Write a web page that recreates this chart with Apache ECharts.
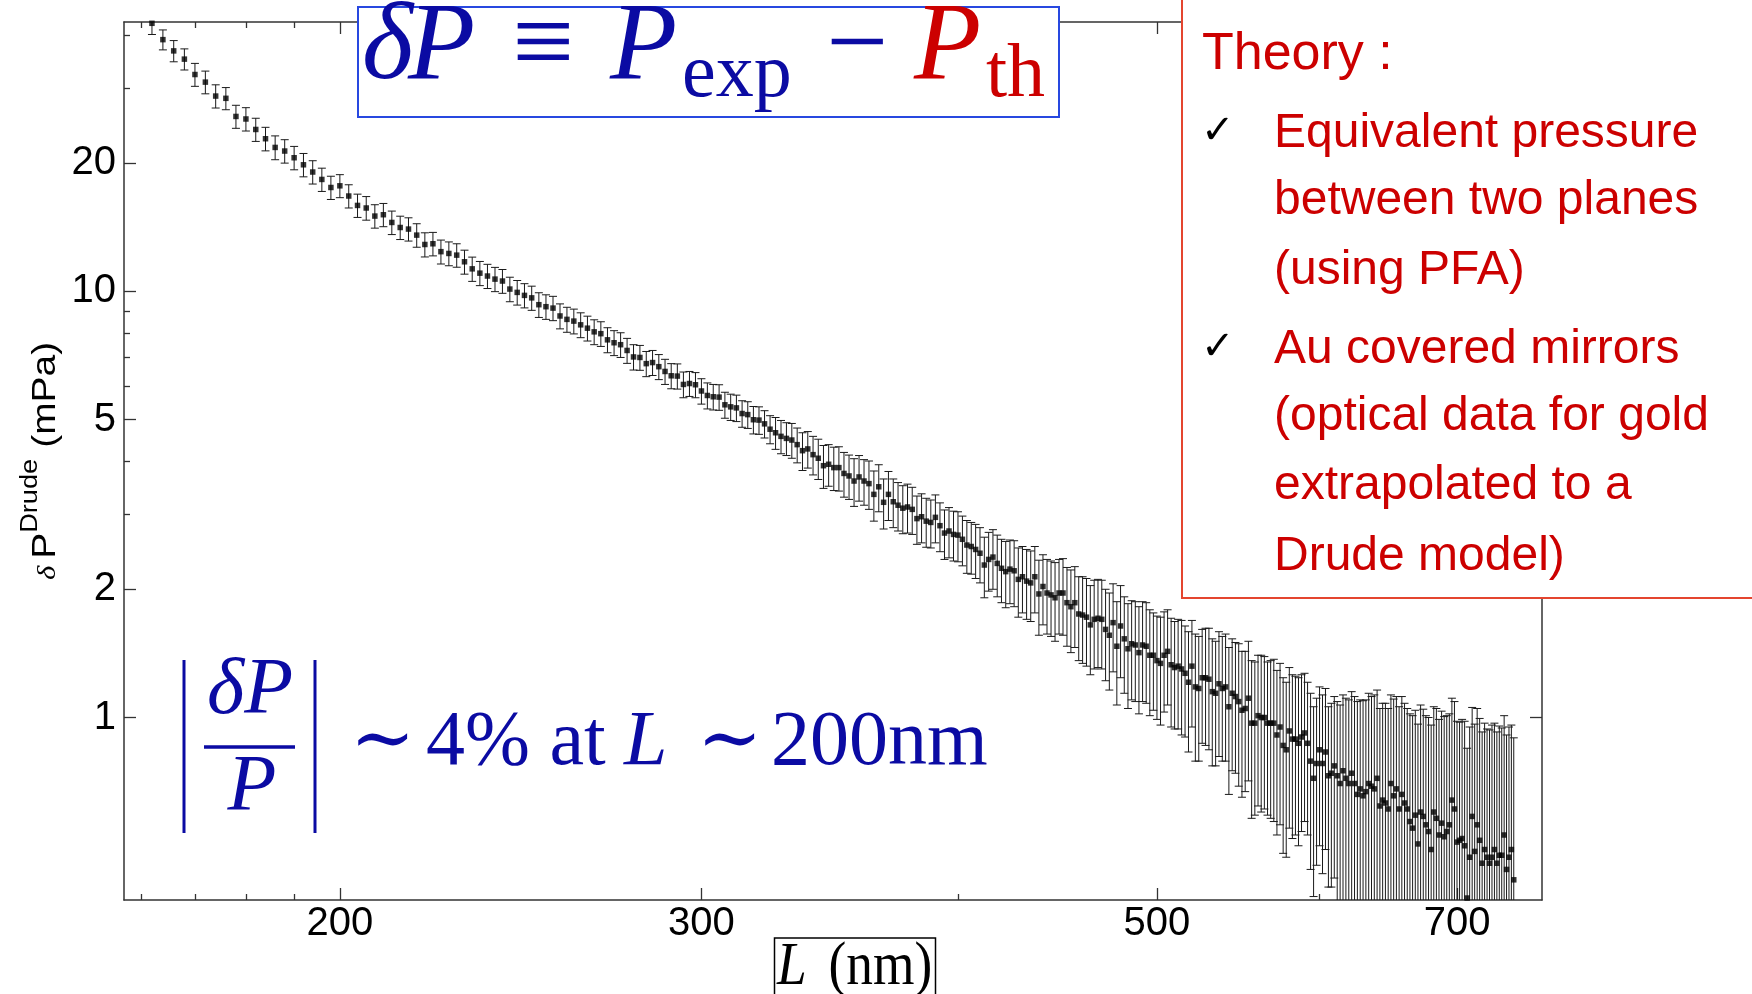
<!DOCTYPE html>
<html><head><meta charset="utf-8">
<script src="https://cdn.jsdelivr.net/npm/echarts@6/dist/echarts.min.js"></script>
<style>html,body{margin:0;padding:0;background:#fff}#c{width:1752px;height:994px}</style>
</head><body><div id="c"></div>
<script>
// ---------- data ----------
const L1 = [162,164,166,168,170,172,174,176,178,180,182,184,186,188,190,192,194,196,198,200,202,204,206,208,210,212];
const P1 = [42.6,39.0,36.7,35.1,32.3,31.0,28.75,28.4,25.75,25.4,24.0,22.83,21.78,21.36,20.6,19.83,19.07,18.32,17.54,17.70,16.75,15.92,15.70,15.03,15.14,14.52];
const E1 = [2.5,2.1,2.1,2.0,2.0,1.9,1.8,1.7,1.6,1.6,1.5,1.45,1.4,1.35,1.3,1.25,1.2,1.15,1.1,1.1,1.05,1.0,1.0,0.95,0.95,0.92];

const L2 = [214,216,218,220,222,224,226,228,230,232,234,236,238,240,242,244,246,248,250,252,254,256,258,260,262,264,266,268,270,272,274,276,278,280,282,284,286,288,290,292,294,296,298,300,302,304,306,308,310,312,314,316,318,320,322,324];
const P2 = [14.13,14.01,13.56,12.89,12.94,12.40,12.28,12.17,11.74,11.30,11.04,10.87,10.69,10.58,10.13,9.95,9.79,9.66,9.31,9.21,9.14,8.76,8.60,8.52,8.35,8.20,8.04,7.96,7.70,7.58,7.50,7.27,7.02,7.00,6.77,6.81,6.66,6.49,6.34,6.33,6.05,6.08,6.04,5.84,5.70,5.66,5.65,5.42,5.36,5.33,5.17,5.14,5.00,4.99,4.89,4.75];
const E2 = [0.89,0.88,0.86,0.84,0.82,0.80,0.79,0.77,0.76,0.74,0.72,0.71,0.70,0.68,0.67,0.66,0.64,0.63,0.62,0.61,0.60,0.59,0.58,0.57,0.56,0.55,0.54,0.53,0.52,0.51,0.50,0.49,0.48,0.47,0.46,0.46,0.45,0.44,0.43,0.43,0.42,0.41,0.41,0.40,0.40,0.39,0.39,0.38,0.38,0.38,0.37,0.37,0.37,0.37,0.36,0.36];

const L3 = [326,328,330,332,334,336,338,340,342,344,346,348,350,352,354,356,358,360,362,364,366,368,370,372,374,376,378,380,382,384,386,388,390,392,394,396,398,400,402,404,406,408,410,412,414,416,418,420,422,424,426,428,430,432,434,436,438,440,442,444,446,448,450,452,454,456,458,460,462,464,466,468,470,472,474,476,478,480,482,484,486,488,490,492,494,496];
const P3 = [4.66,4.57,4.52,4.48,4.37,4.23,4.27,4.14,4.06,3.90,3.93,3.86,3.86,3.74,3.69,3.59,3.67,3.59,3.54,3.34,3.48,3.20,3.34,3.21,3.15,3.10,3.12,3.08,2.93,2.96,2.89,2.87,2.95,2.82,2.71,2.74,2.69,2.68,2.62,2.54,2.52,2.48,2.43,2.28,2.35,2.38,2.30,2.24,2.20,2.23,2.21,2.11,2.14,2.09,2.07,2.14,1.95,2.03,1.96,1.94,1.91,1.96,1.96,1.86,1.82,1.86,1.75,1.74,1.72,1.65,1.70,1.71,1.70,1.61,1.56,1.67,1.47,1.64,1.53,1.45,1.49,1.48,1.42,1.48,1.47,1.40];
const E3 = [0.40,0.41,0.40,0.42,0.41,0.43,0.42,0.43,0.44,0.45,0.44,0.45,0.46,0.45,0.44,0.46,0.45,0.44,0.46,0.45,0.44,0.43,0.44,0.42,0.41,0.40,0.41,0.39,0.38,0.39,0.38,0.37,0.38,0.37,0.36,0.37,0.36,0.36,0.35,0.36,0.35,0.36,0.36,0.37,0.37,0.38,0.38,0.38,0.39,0.38,0.39,0.39,0.38,0.39,0.39,0.38,0.39,0.38,0.39,0.39,0.40,0.39,0.40,0.39,0.40,0.40,0.39,0.40,0.40,0.39,0.40,0.40,0.40,0.39,0.40,0.39,0.40,0.40,0.39,0.40,0.39,0.39,0.40,0.39,0.39,0.39];

const L4 = [498,500,502,504,506,508,510,512,514,516,518,520,522,524,526,528,530,532,534,536,538,540,542,544,546,548,550,552,554,556,558,560,562,564,566,568,570,572,574,576,578,580,582,584,586,588,590,592,594,596,598,600,602,604,606,608,610,612,614,616,618,620,622,624,626,628,630,632,634,636,638,640,642,644,646,648,650,652,654,656,658,660,662,664,666,668,670,672,674,676,678,680,682,684,686,688,690,692,694,696,698,700,702,704,706,708,710,712,714,716,718,720,722,724,726,728,730,732,734,736,738,740,742,744,746];
const P4 = [1.40,1.36,1.34,1.40,1.43,1.33,1.31,1.32,1.30,1.27,1.21,1.32,1.18,1.17,1.24,1.24,1.23,1.15,1.14,1.20,1.17,1.18,1.06,1.14,1.12,1.09,1.04,1.05,1.11,0.97,0.97,1.01,1.00,1.00,0.97,0.97,0.97,0.91,0.95,0.86,0.84,0.93,0.89,0.89,0.87,0.90,0.92,0.87,0.79,0.72,0.78,0.84,0.78,0.83,0.73,0.74,0.77,0.73,0.70,0.75,0.72,0.70,0.74,0.70,0.66,0.68,0.655,0.67,0.70,0.69,0.68,0.72,0.62,0.64,0.63,0.61,0.70,0.655,0.68,0.61,0.66,0.63,0.61,0.57,0.55,0.59,0.505,0.60,0.586,0.56,0.54,0.49,0.60,0.58,0.53,0.565,0.525,0.54,0.56,0.64,0.61,0.51,0.515,0.52,0.50,0.377,0.47,0.586,0.485,0.56,0.515,0.455,0.49,0.47,0.455,0.47,0.49,0.455,0.475,0.475,0.53,0.44,0.47,0.49,0.416];
const E4 = [0.36,0.37,0.38,0.37,0.36,0.38,0.37,0.38,0.39,0.37,0.38,0.37,0.39,0.38,0.37,0.38,0.39,0.38,0.37,0.39,0.38,0.39,0.40,0.39,0.38,0.40,0.39,0.38,0.40,0.39,0.38,0.39,0.40,0.39,0.38,0.39,0.40,0.38,0.39,0.38,0.37,0.38,0.37,0.36,0.37,0.36,0.35,
  0.34,0.35,0.34,0.33,0.34,0.35,0.34,0.33,0.34,0.35,0.36,0.37,0.38,0.39,0.40,
  0.41,0.42,0.43,0.42,0.44,0.43,0.44,0.43,0.45,0.44,0.43,0.44,0.45,0.44,0.43,0.45,0.44,0.45,0.46,0.45,0.44,0.45,0.46,0.45,0.46,0.47,0.46,0.45,0.46,0.47,
  0.46,0.47,0.46,0.47,0.48,0.47,0.46,0.47,0.48,0.47,0.46,0.47,0.48,0.47,0.48,0.47,0.48,0.49,0.48,0.47,0.48,0.47,0.48,0.49,0.48,0.47,0.48,0.47,0.48,0.47,0.48,0.47,0.48];

const xMajorTicks = [200, 300, 500, 700];
const xMinorTicks = [160, 170, 180, 190, 400, 600];
const yMajorTicks = [1, 2, 5, 10, 20];
const yMinorTicks = [3, 4, 6, 7, 8, 9, 30, 40];
const xRange = [157, 770];
const yRange = [0.373, 42.9];

// ---------- build ----------
const L_nm = [].concat(L1, L2, L3, L4);
const dP = [].concat(P1, P2, P3, P4);
const dPerr = [].concat(E1, E2, E3, E4);
if (L_nm.length !== dP.length || dP.length !== dPerr.length) {
  throw new Error('length mismatch ' + L_nm.length + ' ' + dP.length + ' ' + dPerr.length);
}
const points = L_nm.map((l, i) => [l, dP[i]]);
const bars = L_nm.map((l, i) => [l, Math.max(dP[i] - dPerr[i], 0.2), dP[i] + dPerr[i]]);

const SANS = '"Liberation Sans", Arial, sans-serif';
const SERIF = '"Liberation Serif", "DejaVu Serif", serif';
const BLUE = '#0b0ba3';
const RED = '#cc0000';
const AX = '#333';

function xAxisDef(grid, pos, ticks, len, showLine, labels) {
  return {
    gridIndex: grid, type: 'log', logBase: 10, min: xRange[0], max: xRange[1], position: pos,
    axisLine: { show: showLine, lineStyle: { color: AX, width: 1.5 } },
    axisTick: { show: true, inside: true, length: len, customValues: ticks, lineStyle: { color: AX, width: 1.3 } },
    axisLabel: labels ? { show: true, customValues: ticks, fontSize: 40, fontFamily: SANS, color: '#000', margin: 4 } : { show: false },
    splitLine: { show: false }, minorTick: { show: false }, minorSplitLine: { show: false }
  };
}
function yAxisDef(grid, pos, ticks, len, showLine, labels) {
  return {
    gridIndex: grid, type: 'log', logBase: 10, min: yRange[0], max: yRange[1], position: pos,
    axisLine: { show: showLine, lineStyle: { color: AX, width: 1.5 } },
    axisTick: { show: true, inside: true, length: len, customValues: ticks, lineStyle: { color: AX, width: 1.3 } },
    axisLabel: labels ? { show: true, customValues: ticks, fontSize: 40, fontFamily: SANS, color: '#000', margin: 8 } : { show: false },
    splitLine: { show: false }, minorTick: { show: false }, minorSplitLine: { show: false }
  };
}

function txt(x, baseline, text, font, fill, fs, asc, align) {
  return {
    type: 'text', x: x, y: baseline - asc * fs, z: 101,
    style: { text: text, font: font, fill: fill, align: align || 'left', verticalAlign: 'middle' }
  };
}
const SA = 0.3465, SE = 0.3375;

const graphics = [
  // blue formula box
  { type: 'rect', z: 100, shape: { x: 358, y: 7, width: 701, height: 110 }, style: { fill: '#fff', stroke: '#2848e0', lineWidth: 2 } },
  txt(362, 86, 'δ', 'italic 110px ' + SERIF, BLUE, 110, SE),
  txt(408, 86, 'P', 'italic 110px ' + SERIF, BLUE, 110, SE),
  txt(512, 86, '≡', '110px ' + SERIF, BLUE, 110, SE),
  txt(610, 86, 'P', 'italic 110px ' + SERIF, BLUE, 110, SE),
  txt(682, 102, 'exp', '76px ' + SERIF, BLUE, 76, SE),
  txt(826, 86, '−', '110px ' + SERIF, BLUE, 110, SE),
  txt(914, 86, 'P', 'italic 110px ' + SERIF, RED, 110, SE),
  txt(986, 102, 'th', '76px ' + SERIF, RED, 76, SE),

  // theory box
  { type: 'rect', z: 100, shape: { x: 1182, y: -10, width: 600, height: 608 }, style: { fill: '#fff', stroke: '#e4452f', lineWidth: 2 } },
  txt(1202, 73, 'Theory :', '52px ' + SANS, RED, 52, SA),
  txt(1274, 150, 'Equivalent pressure', '48px ' + SANS, RED, 48, SA),
  txt(1274, 217, 'between two planes', '48px ' + SANS, RED, 48, SA),
  txt(1274, 287, '(using PFA)', '48px ' + SANS, RED, 48, SA),
  txt(1274, 366, 'Au covered mirrors', '48px ' + SANS, RED, 48, SA),
  txt(1274, 433, '(optical data for gold', '48px ' + SANS, RED, 48, SA),
  txt(1274, 502, 'extrapolated to a', '48px ' + SANS, RED, 48, SA),
  txt(1274, 573, 'Drude model)', '48px ' + SANS, RED, 48, SA),
  txt(1201, 146, '✓', 'bold 40px "DejaVu Sans"', '#000', 40, SA),
  txt(1201, 362, '✓', 'bold 40px "DejaVu Sans"', '#000', 40, SA),

  // |dP/P| ~ 4% at L ~ 200nm
  { type: 'line', z: 101, shape: { x1: 184, y1: 660, x2: 184, y2: 833 }, style: { stroke: BLUE, lineWidth: 3 } },
  { type: 'line', z: 101, shape: { x1: 315, y1: 660, x2: 315, y2: 833 }, style: { stroke: BLUE, lineWidth: 3 } },
  { type: 'line', z: 101, shape: { x1: 204, y1: 747, x2: 295, y2: 747 }, style: { stroke: BLUE, lineWidth: 3.5 } },
  txt(250, 719, 'δP', 'italic 80px ' + SERIF, BLUE, 80, SE, 'center'),
  txt(252, 816, 'P', 'italic 80px ' + SERIF, BLUE, 80, SE, 'center'),
  txt(350, 770, '∼', '78px ' + SERIF, BLUE, 78, SE),
  txt(426, 770, '4% at', '78px ' + SERIF, BLUE, 78, SE),
  txt(624, 770, 'L', 'italic 78px ' + SERIF, BLUE, 78, SE),
  txt(697, 770, '∼', '78px ' + SERIF, BLUE, 78, SE),
  txt(771, 770, '200nm', '78px ' + SERIF, BLUE, 78, SE),

  // x axis name boxed
  { type: 'rect', z: 100, shape: { x: 774.5, y: 938, width: 161, height: 80 }, style: { fill: 'none', stroke: '#000', lineWidth: 1.5 } },
  { type: 'group', x: 777, y: 0, scaleX: 0.86, z: 101, children: [
    txt(0, 989, 'L', 'italic 62px ' + SERIF, '#000', 62, SE),
    txt(60, 989, '(nm)', '62px ' + SERIF, '#000', 62, SE)
  ]},

  // y axis name (rotated)
  { type: 'group', x: 57, y: 580, rotation: Math.PI / 2, scaleX: 1.18, z: 101, children: [
    txt(0, 0, 'δ', 'italic 26px ' + SERIF, '#000', 26, SE),
    txt(18, 0, 'P', '33px ' + SANS, '#000', 33, SA),
    txt(40, -18, 'Drude', '23px ' + SANS, '#000', 23, SA),
    txt(112, 0, '(mPa)', '33px ' + SANS, '#000', 33, SA)
  ]}
];

const chart = echarts.init(document.getElementById('c'), null, { renderer: 'canvas' });
chart.setOption({
  animation: false,
  backgroundColor: '#fff',
  grid: [
    { left: 124, top: 22, right: 210, bottom: 94, outerBoundsMode: 'none', containLabel: false },
    { left: 124, top: 22, right: 210, bottom: 94, outerBoundsMode: 'none', containLabel: false }
  ],
  xAxis: [
    xAxisDef(0, 'bottom', xMajorTicks, 12, true, true),
    xAxisDef(0, 'top', xMajorTicks, 12, true, false),
    xAxisDef(1, 'bottom', xMinorTicks, 6, false, false),
    xAxisDef(1, 'top', xMinorTicks, 6, false, false)
  ],
  yAxis: [
    yAxisDef(0, 'left', yMajorTicks, 12, true, true),
    yAxisDef(0, 'right', yMajorTicks, 12, true, false),
    yAxisDef(1, 'left', yMinorTicks, 6, false, false),
    yAxisDef(1, 'right', yMinorTicks, 6, false, false)
  ],
  series: [
    {
      type: 'custom', xAxisIndex: 0, yAxisIndex: 0, clip: true, z: 2,
      data: bars, encode: { x: 0, y: [1, 2] },
      renderItem: function (params, api) {
        const x = api.value(0), lo = api.value(1), hi = api.value(2);
        const a = api.coord([x, lo]), b = api.coord([x, hi]);
        const cw = 4, st = { stroke: '#1a1a1a', lineWidth: 1 };
        return { type: 'group', children: [
          { type: 'line', shape: { x1: a[0], y1: a[1], x2: b[0], y2: b[1] }, style: st },
          { type: 'line', shape: { x1: b[0] - cw, y1: b[1], x2: b[0] + cw, y2: b[1] }, style: st },
          { type: 'line', shape: { x1: a[0] - cw, y1: a[1], x2: a[0] + cw, y2: a[1] }, style: st }
        ]};
      }
    },
    {
      type: 'scatter', xAxisIndex: 0, yAxisIndex: 0, symbol: 'rect', symbolSize: 5.5, z: 3,
      itemStyle: { color: '#000' }, data: points
    }
  ],
  graphic: graphics
});
</script>
</body></html>
